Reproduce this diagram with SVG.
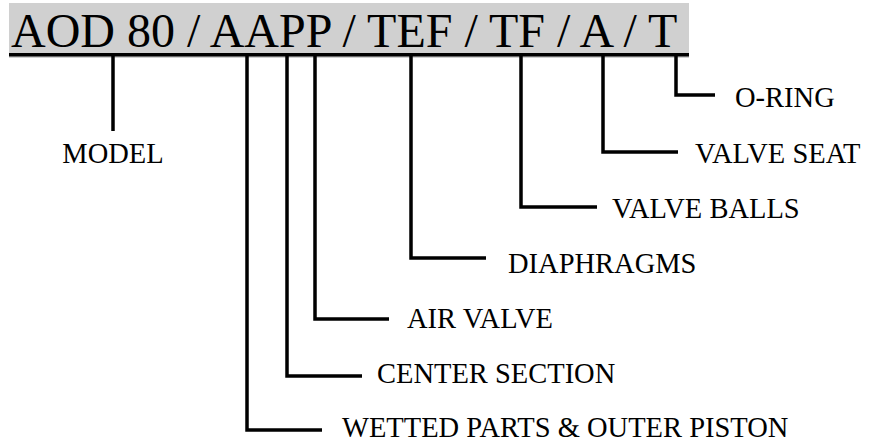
<svg xmlns="http://www.w3.org/2000/svg" width="875" height="444" viewBox="0 0 875 444">
<style>
text{font-family:'Liberation Serif','Times New Roman',Times,'DejaVu Serif',serif;fill:#000}
.lbl{font-size:28.5px}
.ttl{font-size:48px}
.c{fill:none;stroke:#000;stroke-width:3.5;stroke-linejoin:miter;stroke-linecap:butt}
</style>
<rect x="0" y="0" width="875" height="444" fill="#fff"/>
<g id="code">
<rect x="9" y="3" width="680" height="55" fill="#d0d0d0"/>
<text class="ttl" x="11" y="47" font-family="Liberation Serif, Times New Roman, serif">AOD 80 / AAPP / TEF / TF / A / T</text>
<line x1="9" y1="54.8" x2="689" y2="54.8" stroke="#000" stroke-width="3.5"/>
</g>
<g id="connectors">
<polyline class="c" points="113,56 113,131"/>
<polyline class="c" points="247,56 247,430 322,430"/>
<polyline class="c" points="287,56 287,376 362,376"/>
<polyline class="c" points="315,56 315,319 389,319"/>
<polyline class="c" points="411,56 411,258 486,258"/>
<polyline class="c" points="521,56 521,207 597,207"/>
<polyline class="c" points="603,56 603,152 678,152"/>
<polyline class="c" points="676,56 676,95 715,95"/>
</g>
<g id="model"><text class="lbl" x="113" y="163" text-anchor="middle" font-family="Liberation Serif, Times New Roman, serif">MODEL</text></g>
<g id="wetted"><text class="lbl" x="342" y="437" font-family="Liberation Serif, Times New Roman, serif">WETTED PARTS &amp; OUTER PISTON</text></g>
<g id="center"><text class="lbl" x="377" y="383" font-family="Liberation Serif, Times New Roman, serif">CENTER SECTION</text></g>
<g id="airvalve"><text class="lbl" x="407" y="328" font-family="Liberation Serif, Times New Roman, serif">AIR VALVE</text></g>
<g id="diaphragms"><text class="lbl" x="508" y="273" font-family="Liberation Serif, Times New Roman, serif">DIAPHRAGMS</text></g>
<g id="valveballs"><text class="lbl" x="612" y="218" font-family="Liberation Serif, Times New Roman, serif">VALVE BALLS</text></g>
<g id="valveseat"><text class="lbl" x="695" y="163" font-family="Liberation Serif, Times New Roman, serif">VALVE SEAT</text></g>
<g id="oring"><text class="lbl" x="735" y="107" font-family="Liberation Serif, Times New Roman, serif">O-RING</text></g>
</svg>
